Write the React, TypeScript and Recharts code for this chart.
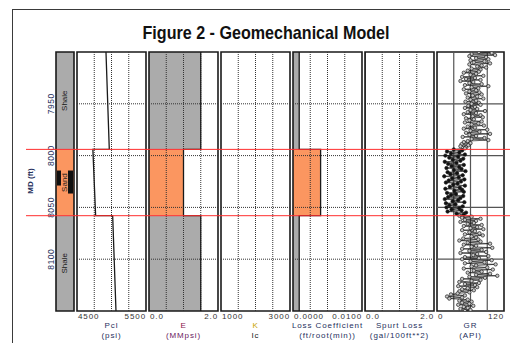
import React from "react";
import { LineChart, Line, XAxis, YAxis, ReferenceArea, ReferenceLine } from "recharts";

// depth scale (MD, ft)
const depthRange = [7900, 8150];
const depthTicks = [7950, 8000, 8050, 8100];
const zoneMarkers = [7994, 8058];

// lithology column
const lithTop = [7900, 7994, 8058];
const lithBase = [7994, 8058, 8150];
const lithName = ["Shale", "Sand", "Shale"];

// closure pressure (psi)
const pclDepth = [7900, 7994, 7994, 8058, 8058, 8150];
const pclPsi = [4920, 4968, 4730, 4770, 5017, 5065];

// per-layer properties
const youngsMod = [1.5, 1.0, 1.5]; // MMpsi
const lossCoef = [0.0009, 0.004, 0.0009]; // ft/root(min)
const spurtLoss = [0, 0, 0]; // gal/100ft**2

// gamma ray (API), one sample per foot from 7900 to 8150
const grStart = 7900;
const grStep = 1;
const grApi = [
  75, 98, 62, 104, 58, 88,
  70, 92, 60, 85, 66, 95, 58, 80, 72, 88, 62, 78,
  55, 75, 48, 70, 60, 83, 45, 68, 52, 78, 42, 65, 58,
  80, 50, 92, 62, 74, 48, 70,
  58, 76, 52, 80, 64, 72, 55, 83, 60, 70, 51, 75, 62, 78, 56, 68,
  50, 72, 60, 86, 55, 70, 48, 78, 64, 82, 52, 66, 58, 80, 50, 74, 62, 84, 55,
  68, 48, 90, 60, 76, 52, 95, 58, 70, 46, 85, 62, 92,
  55, 48, 60, 44, 56, 42, 52, 50,
  // sand
  30, 45, 18, 40, 25, 50, 15, 38, 22, 47,
  28, 42, 14, 35, 20, 48, 26, 40, 17, 44,
  30, 51, 19, 36, 24, 46, 13, 39, 27, 49,
  21, 43, 16, 37, 29, 50, 23, 41, 15, 45,
  31, 48, 18, 34, 25, 47, 20, 42, 14, 38,
  28, 49, 16, 33, 22, 46, 17, 40, 26, 44,
  19, 52, 35, 48,
  // lower shale
  40, 62, 45, 78, 50, 70, 42, 66,
  55, 80, 48, 72, 60, 83, 45, 68, 58, 76, 50, 82, 62, 70, 47, 74,
  40, 78, 55, 95, 48, 70, 62, 99, 45, 80, 58, 88, 42, 72, 65, 92, 50,
  75, 45, 98, 60, 85, 50, 105, 70, 62, 90, 48, 100, 66, 80, 55, 95, 70, 108, 58, 86, 45, 78,
  62, 40, 75, 50, 68, 38, 72, 55, 45, 66, 40, 58, 37,
  25, 50, 18, 45, 22, 55,
  40, 62, 45, 58, 38, 65, 48, 55, 42, 60, 50,
];

const PLOT_TOP = 52;
const PLOT_H = 259;
const FONT = "'Liberation Sans', Arial, sans-serif";
const NAVY = "#26305c";
const GRAY = "#ababab";
const ORANGE = "#fb9660";

const stepRows = (vals: number[]) =>
  vals.flatMap((v, i) => [
    { depth: lithTop[i], v },
    { depth: lithBase[i], v },
  ]);

const pclRows = pclDepth.map((d, i) => ({ depth: d, v: pclPsi[i] }));
const grRows = grApi.map((v, i) => ({ depth: grStart + i * grStep, v }));

const inSand = (d: number) =>
  lithName.some((n, i) => n === "Sand" && d >= lithTop[i] && d < lithBase[i]);

// circle marker; dense sand samples read as a solid dark band in the original log
function GrDot(props: any) {
  const { cx, cy, payload } = props;
  if (cx == null || cy == null) return null;
  const dark = inSand(payload.depth);
  return (
    <circle
      cx={cx}
      cy={cy}
      r={1.7}
      stroke="#1a1a1a"
      strokeWidth={0.7}
      fill={dark ? "#111" : "#c8c8c8"}
    />
  );
}

function EdgeTick(props: any) {
  const { x, y, payload, index, decimals } = props;
  const first = index === 0;
  return (
    <text
      x={first ? x + 1 : x}
      y={y + 8}
      textAnchor={first ? "start" : "end"}
      fontSize={8}
      fontFamily={FONT}
      fill="#333"
      style={{ letterSpacing: "0.9px" }}
    >
      {Number(payload.value).toFixed(decimals)}
    </text>
  );
}

function DepthTick(props: any) {
  const { x, y, payload } = props;
  const tx = x - 5;
  return (
    <text
      x={tx}
      y={y}
      transform={`rotate(-90 ${tx} ${y})`}
      textAnchor="middle"
      dominantBaseline="central"
      fontSize={8.5}
      fontFamily={FONT}
      fill={NAVY}
      style={{ letterSpacing: "0.5px" }}
    >
      {payload.value}
    </text>
  );
}

function LithLabel(props: any) {
  const { viewBox, name } = props;
  const { x, y, width, height } = viewBox;
  const cx = x + width / 2;
  const cy = y + height / 2;
  const label = (
    <text
      x={cx}
      y={cy}
      transform={`rotate(-90 ${cx} ${cy})`}
      textAnchor="middle"
      dominantBaseline="central"
      fontSize={8}
      fontFamily={FONT}
      fill="#1a1a1a"
    >
      {name}
    </text>
  );
  if (name !== "Sand") return label;
  return (
    <g>
      <rect x={x + 1} y={cy - 12} width={4} height={15} fill="#111" />
      <rect x={x + 12} y={cy - 12} width={width - 13} height={23} fill="#111" />
      {label}
    </g>
  );
}

interface TrackProps {
  left: number;
  width: number;
  min: number;
  max: number;
  decimals: number;
  grid: number[];
  solid?: boolean;
  rows: { depth: number; v: number }[];
  fills?: number[];
  curve?: boolean;
  dots?: boolean;
}

function Track({ left, width, min, max, decimals, grid, solid, rows, fills, curve = true, dots }: TrackProps) {
  const gridStyle = solid
    ? { stroke: "#555", strokeWidth: 1.2 }
    : { stroke: "#333", strokeWidth: 1, strokeDasharray: "1 1" };
  return (
    <div style={{ position: "absolute", left: left - 1, top: PLOT_TOP - 1 }}>
      <LineChart
        layout="vertical"
        width={width + 2}
        height={PLOT_H + 14}
        data={rows}
        margin={{ top: 1, right: 1, bottom: 0, left: 1 }}
      >
        <XAxis
          type="number"
          domain={[min, max]}
          ticks={[min, max]}
          interval={0}
          allowDataOverflow
          axisLine={false}
          tickLine={false}
          tickSize={0}
          tickMargin={0}
          height={13}
          tick={<EdgeTick decimals={decimals} />}
        />
        <YAxis type="number" dataKey="depth" domain={depthRange} allowDataOverflow hide />
        {fills &&
          fills.map((v, i) => (
            <ReferenceArea
              key={"f" + i}
              x1={min}
              x2={v}
              y1={lithTop[i]}
              y2={lithBase[i]}
              fill={lithName[i] === "Sand" ? ORANGE : GRAY}
              fillOpacity={1}
              stroke="none"
            />
          ))}
        {grid.map((g) => (
          <ReferenceLine key={"x" + g} x={g} {...gridStyle} />
        ))}
        {depthTicks.map((d) => (
          <ReferenceLine key={"y" + d} y={d} {...gridStyle} />
        ))}
        {curve && (
          <Line
            dataKey="v"
            stroke="#1a1a1a"
            strokeWidth={dots ? 0.7 : 1.3}
            dot={dots ? <GrDot /> : false}
            isAnimationActive={false}
          />
        )}
        <ReferenceArea
          x1={min}
          x2={max}
          y1={depthRange[0]}
          y2={depthRange[1]}
          fill="none"
          stroke="#1a1a1a"
          strokeWidth={1.6}
        />
      </LineChart>
    </div>
  );
}

function Title({ cx, line1, line2, c1, c2 }: { cx: number; line1: string; line2: string; c1: string; c2: string }) {
  const style: React.CSSProperties = {
    position: "absolute",
    left: cx - 50,
    width: 100,
    textAlign: "center",
    fontFamily: FONT,
    fontSize: 8,
    letterSpacing: "0.9px",
    lineHeight: "10px",
    whiteSpace: "nowrap",
  };
  return (
    <>
      <div style={{ ...style, top: 321, color: c1 }}>{line1}</div>
      <div style={{ ...style, top: 331, color: c2 }}>{line2}</div>
    </>
  );
}

export default function App() {
  return (
    <div
      style={{
        position: "fixed",
        left: 0,
        top: 0,
        width: 510,
        height: 343,
        background: "#fff",
        overflow: "hidden",
        fontFamily: FONT,
      }}
    >
      <div
        style={{
          position: "absolute",
          left: 12,
          top: 9,
          width: 540,
          height: 400,
          border: "1px solid #3a3a3a",
          boxSizing: "border-box",
        }}
      />
      <svg width={510} height={50} style={{ position: "absolute", left: 0, top: 0 }}>
        <text
          x={266}
          y={39}
          textAnchor="middle"
          fontFamily={FONT}
          fontWeight="bold"
          fontSize={18.5}
          textLength={247}
          lengthAdjust="spacingAndGlyphs"
          fill="#111"
        >
          Figure 2 -  Geomechanical Model
        </text>
      </svg>

      {/* MD axis title */}
      <svg width={20} height={60} style={{ position: "absolute", left: 20, top: 151 }}>
        <text
          x={10}
          y={30}
          transform="rotate(-90 10 30)"
          textAnchor="middle"
          dominantBaseline="central"
          fontFamily={FONT}
          fontWeight="bold"
          fontSize={8}
          fill={NAVY}
        >
          MD (ft)
        </text>
      </svg>

      {/* lithology column with depth axis */}
      <div style={{ position: "absolute", left: 20, top: PLOT_TOP - 1 }}>
        <LineChart
          layout="vertical"
          width={36 + 18 + 1}
          height={PLOT_H + 2}
          data={[{ depth: depthRange[0], v: 0 }]}
          margin={{ top: 1, right: 1, bottom: 1, left: 0 }}
        >
          <XAxis type="number" domain={[0, 1]} allowDataOverflow hide />
          <YAxis
            type="number"
            dataKey="depth"
            domain={depthRange}
            allowDataOverflow
            ticks={depthTicks}
            interval={0}
            width={36}
            axisLine={false}
            tickLine={false}
            tickSize={0}
            tickMargin={0}
            tick={<DepthTick />}
          />
          {lithName.map((n, i) => (
            <ReferenceArea
              key={i}
              x1={0}
              x2={1}
              y1={lithTop[i]}
              y2={lithBase[i]}
              ifOverflow="visible"
              fill={n === "Sand" ? ORANGE : GRAY}
              fillOpacity={1}
              stroke="none"
              label={(p: any) => <LithLabel {...p} name={n} />}
            />
          ))}
          <ReferenceArea
            x1={0}
            x2={1}
            y1={depthRange[0]}
            y2={depthRange[1]}
            ifOverflow="visible"
            fill="none"
            stroke="#1a1a1a"
            strokeWidth={1.6}
          />
        </LineChart>
      </div>

      <Track left={77} width={69} min={4500} max={5500} decimals={0} grid={[4750, 5000, 5250]} rows={pclRows} />
      <Track left={149} width={69} min={0} max={2} decimals={1} grid={[0.5, 1, 1.5]} rows={stepRows(youngsMod)} fills={youngsMod} />
      <Track left={221} width={69} min={1000} max={3000} decimals={0} grid={[1500, 2000, 2500]} rows={[]} curve={false} />
      <Track left={293} width={69} min={0} max={0.01} decimals={4} grid={[0.0025, 0.005, 0.0075]} rows={stepRows(lossCoef)} fills={lossCoef} />
      <Track left={365} width={69} min={0} max={2} decimals={1} grid={[0.5, 1, 1.5]} rows={stepRows(spurtLoss)} />
      <Track left={437} width={67} min={0} max={120} decimals={0} grid={[30, 60, 90]} solid rows={grRows} dots />

      {/* formation top markers across all tracks */}
      <div style={{ position: "absolute", left: 26, top: PLOT_TOP - 1, pointerEvents: "none" }}>
        <LineChart
          width={484}
          height={PLOT_H + 2}
          data={[{ depth: depthRange[0], v: 0 }]}
          margin={{ top: 1, right: 0, bottom: 1, left: 0 }}
        >
          <XAxis type="number" dataKey="v" domain={[0, 1]} hide />
          <YAxis type="number" domain={depthRange} reversed allowDataOverflow hide />
          {zoneMarkers.map((d) => (
            <ReferenceLine key={d} y={d} stroke="#ff2e2e" strokeWidth={1} />
          ))}
        </LineChart>
      </div>

      <Title cx={111.5} line1="Pcl" line2="(psi)" c1={NAVY} c2={NAVY} />
      <Title cx={183.5} line1="E" line2="(MMpsi)" c1="#8a1048" c2="#6a2060" />
      <Title cx={255.5} line1="K" line2="Ic" c1="#c8a400" c2="#222" />
      <Title cx={327.5} line1="Loss Coefficient" line2="(ft/root(min))" c1={NAVY} c2={NAVY} />
      <Title cx={399.5} line1="Spurt Loss" line2="(gal/100ft**2)" c1={NAVY} c2={NAVY} />
      <Title cx={470.5} line1="GR" line2="(API)" c1={NAVY} c2={NAVY} />
    </div>
  );
}
